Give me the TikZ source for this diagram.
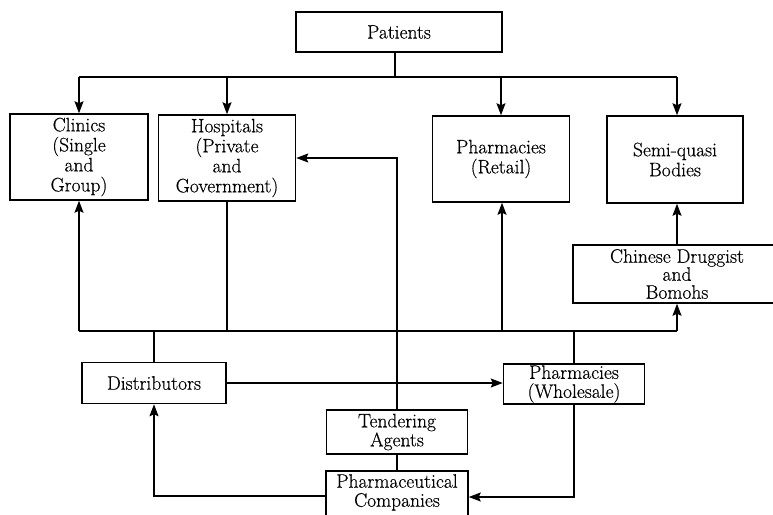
\documentclass[tikz,border=0pt]{standalone}
\usepackage{fontspec}
\setmainfont{Latin Modern Roman}[FakeBold=0.4]
\usetikzlibrary{arrows.meta}
\begin{document}
\begin{tikzpicture}[x=1pt,y=-1pt,
  every node/.style={font=\fontsize{19.5}{20}\selectfont},
  box/.style={draw,line width=1.5pt,align=center,inner sep=0pt,fill=white},
  conn/.style={line width=1.5pt},
  arr/.style={conn,-{Stealth[length=12pt,width=9pt,inset=2pt]}}]
\useasboundingbox (0,0) rectangle (773,514);
\clip (0,0) rectangle (773,514);
% boxes
\node[box,minimum width=206pt,minimum height=40pt] (pat) at (399,32) {Patients};
\node[box,minimum width=138pt,minimum height=86pt] (cli) at (79,157) {Clinics\\(Single\\and\\Group)};
\node[box,minimum width=137pt,minimum height=86pt] (hos) at (227,158) {Hospitals\\(Private\\and\\Government)};
\node[box,minimum width=137pt,minimum height=86pt] (ret) at (501,159) {Pharmacies\\(Retail)};
\node[box,minimum width=136pt,minimum height=87pt] (sem) at (675,159.5) {Semi-quasi\\Bodies};
\node[box,minimum width=208pt,minimum height=58pt] (chi) at (677,274) {Chinese Druggist\\[-2pt]and\\[-2pt]Bomohs};
\node[box,minimum width=144pt,minimum height=41pt] (dis) at (154,383) {Distributors};
\node[box,minimum width=141pt,minimum height=40pt] (who) at (574,384) {Pharmacies\\[-1pt](Wholesale)};
\node[box,minimum width=141pt,minimum height=44pt] (ten) at (397,432) {Tendering\\[-1pt]Agents};
\node[box,minimum width=142pt,minimum height=54pt,anchor=north] (com) at (397,470) {};
\node[anchor=north,align=center,inner sep=0pt] (comtxt) at (397,474) {Pharmaceutical\\[-1pt]Companies};
% coordinates
\coordinate (tb) at (395,77);
\coordinate (tbl) at (79,77);
\coordinate (tbr) at (677,77);
\coordinate (bbl) at (79,331);
\coordinate (bbr) at (677,331);
% top bus
\draw[conn] (pat.south -| tb) -- (tb);
\draw[conn] (tbl) -- (tbr);
\draw[arr] (tbl) -- (cli.north -| tbl);
\draw[arr] (tbl -| hos.north) -- (hos.north);
\draw[arr] (tbl -| ret.north) -- (ret.north);
\draw[arr] (tbr) -- (tbr |- sem.north);
% bottom bus
\draw[conn] (bbl) -- (bbr);
\draw[arr] (bbl) -- (cli.south -| bbl);
\draw[conn] (hos.south) -- (hos.south |- bbl);
\draw[arr] (502,331) -- (502,0 |- ret.south);
\draw[arr] (bbr) -- (chi.south);
\draw[conn] (dis.north) -- (dis.north |- bbl);
\draw[conn] (who.north) -- (who.north |- bbl);
\draw[arr] (chi.north) -- (chi.north |- sem.south);
% tendering
\draw[arr] (ten.north) |- (hos.east);
\draw[conn] (ten.south) -- (com.north);
% distributors / wholesale / companies
\draw[arr] (dis.east) -- (dis.east -| who.west);
\draw[arr] (who.south) |- (com.east |- 0,497);
\draw[arr] (com.west |- 0,496) -| (dis.south);
\end{tikzpicture}
\end{document}
